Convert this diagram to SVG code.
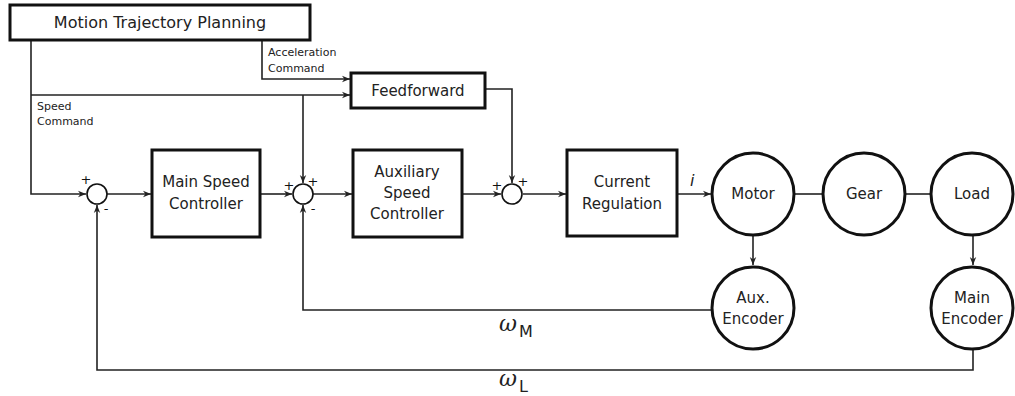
<svg xmlns="http://www.w3.org/2000/svg" width="1015" height="396" viewBox="0 0 1015 396">
<style>
.box{fill:#fff;stroke:#111;stroke-width:3}
.circ{fill:#fff;stroke:#111;stroke-width:3}
.sum{fill:#fff;stroke:#111;stroke-width:1.6}
.ln{fill:none;stroke:#222;stroke-width:1.6}
.t{font-family:"DejaVu Sans",sans-serif;fill:#222;text-anchor:middle}
.big{font-size:15px}
.sm{font-size:11px;text-anchor:start}
.sg{font-family:"DejaVu Sans",sans-serif;fill:#111;font-size:13px;text-anchor:middle}
.om{font-family:"DejaVu Serif",serif;font-style:italic;font-size:22px;fill:#222}
.sub{font-family:"DejaVu Sans",sans-serif;font-size:16px;fill:#222}
</style>
<defs>
<marker id="ah" viewBox="0 0 10 10" refX="10" refY="5" markerWidth="8" markerHeight="8" markerUnits="userSpaceOnUse" orient="auto">
<path d="M0,1 L10,5 L0,9 L3,5 Z" fill="#222"/>
</marker>
</defs>
<rect width="1015" height="396" fill="#fff"/>
<g id="connectors">
<path class="ln" d="M31,40 V194 H86" marker-end="url(#ah)"/>
<path class="ln" d="M262,40 V79 H350" marker-end="url(#ah)"/>
<path class="ln" d="M31,95 H350" marker-end="url(#ah)"/>
<path class="ln" d="M303,95 V183" marker-end="url(#ah)"/>
<path class="ln" d="M107,194 H151" marker-end="url(#ah)"/>
<path class="ln" d="M261,194 H292" marker-end="url(#ah)"/>
<path class="ln" d="M313,194 H352" marker-end="url(#ah)"/>
<path class="ln" d="M463,194 H501" marker-end="url(#ah)"/>
<path class="ln" d="M486,89 H512 V183" marker-end="url(#ah)"/>
<path class="ln" d="M523,194 H566" marker-end="url(#ah)"/>
<path class="ln" d="M678,194 H711" marker-end="url(#ah)"/>
<path class="ln" d="M795,194 H823"/>
<path class="ln" d="M906,194 H932"/>
<path class="ln" d="M753,236 V265" marker-end="url(#ah)"/>
<path class="ln" d="M973,236 V265" marker-end="url(#ah)"/>
<path class="ln" d="M712,310 H303 V205" marker-end="url(#ah)"/>
<path class="ln" d="M973,350 V370 H97 V205" marker-end="url(#ah)"/>
</g>
<g id="planning"><rect class="box" x="10" y="5" width="300" height="35"/><text class="t" x="160" y="28" style="font-size:16px">Motion Trajectory Planning</text></g>
<g id="accel-label"><text class="t sm" x="268" y="56">Acceleration</text><text class="t sm" x="268" y="72">Command</text></g>
<g id="speed-label"><text class="t sm" x="37" y="110">Speed</text><text class="t sm" x="37" y="125">Command</text></g>
<g id="feedforward"><rect class="box" x="351" y="73" width="134" height="35"/><text class="t" x="418" y="96" style="font-size:15px">Feedforward</text></g>
<g id="sum1"><circle class="sum" cx="97" cy="194" r="10"/><text class="sg" x="86" y="184">+</text><text class="sg" x="106" y="213">-</text></g>
<g id="main-speed"><rect class="box" x="152" y="150" width="108" height="87"/><text class="t big" x="206" y="187">Main Speed</text><text class="t big" x="206" y="209">Controller</text></g>
<g id="sum2"><circle class="sum" cx="303" cy="194" r="10"/><text class="sg" x="289" y="190">+</text><text class="sg" x="313" y="186">+</text><text class="sg" x="313" y="213">-</text></g>
<g id="aux-speed"><rect class="box" x="353" y="150" width="109" height="87"/><text class="t big" x="407" y="177">Auxiliary</text><text class="t big" x="407" y="198">Speed</text><text class="t big" x="407" y="219">Controller</text></g>
<g id="sum3"><circle class="sum" cx="512" cy="194" r="10"/><text class="sg" x="497" y="190">+</text><text class="sg" x="523" y="186">+</text></g>
<g id="current"><rect class="box" x="567" y="150" width="110" height="86"/><text class="t big" x="622" y="187">Current</text><text class="t big" x="622" y="209">Regulation</text></g>
<text id="i-label" x="690" y="186" style="font-family:'DejaVu Sans',sans-serif;font-style:italic;font-size:16px;fill:#222">i</text>
<g id="motor"><circle class="circ" cx="753" cy="194" r="41"/><text class="t big" x="753" y="199">Motor</text></g>
<g id="gear"><circle class="circ" cx="864" cy="194" r="41"/><text class="t big" x="864" y="199">Gear</text></g>
<g id="load"><circle class="circ" cx="972" cy="194" r="41"/><text class="t big" x="972" y="199">Load</text></g>
<g id="aux-encoder"><circle class="circ" cx="753" cy="308" r="41"/><text class="t big" x="753" y="303">Aux.</text><text class="t big" x="753" y="324">Encoder</text></g>
<g id="main-encoder"><circle class="circ" cx="972" cy="308" r="41"/><text class="t big" x="972" y="303">Main</text><text class="t big" x="972" y="324">Encoder</text></g>
<g id="omega-m"><text class="om" x="499" y="331">ω</text><text class="sub" x="519" y="337">M</text></g>
<g id="omega-l"><text class="om" x="499" y="386">ω</text><text class="sub" x="519" y="392">L</text></g>
</svg>
